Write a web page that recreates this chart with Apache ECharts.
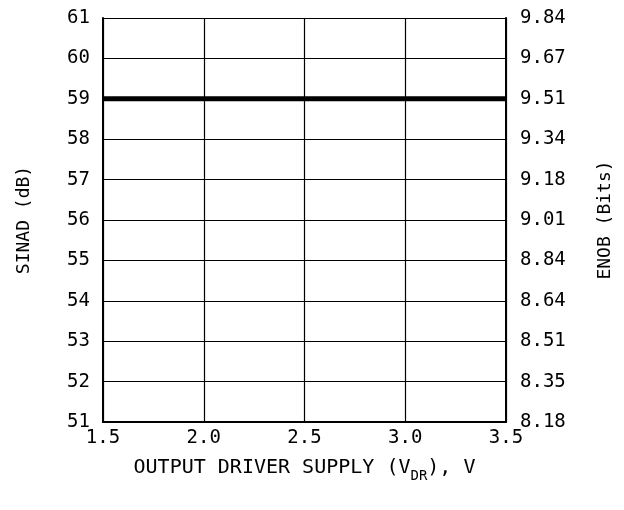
<!DOCTYPE html>
<html>
<head>
<meta charset="utf-8">
<script src="https://cdn.jsdelivr.net/npm/echarts@6/dist/echarts.min.js"></script>
<style>
  html, body { margin: 0; padding: 0; background: #fff; }
  #chart { width: 624px; height: 510px; }
</style>
</head>
<body>
<div id="chart"></div>
<script>
// data
const supplyV = [1.5, 2.0, 2.5, 3.0, 3.5];
const sinadDb = [59, 59, 59, 59, 59];
// right axis labels, bottom to top
const enobLabels = ['8.18', '8.35', '8.51', '8.64', '8.84', '9.01', '9.18', '9.34', '9.51', '9.67', '9.84'];

const chart = echarts.init(document.getElementById('chart'));
const font = 'DejaVu Sans Mono';

const option = {
  animation: false,
  grid: { left: 103, right: 118, top: 18, bottom: 88 },
  xAxis: {
    type: 'value',
    min: 1.5,
    max: 3.5,
    interval: 0.5,
    name: '{a|OUTPUT DRIVER SUPPLY (V}{s|DR}{a|), V}',
    nameLocation: 'middle',
    nameGap: 34,
    nameTextStyle: {
      rich: {
        a: { fontFamily: font, fontSize: 20, color: '#000', lineHeight: 22, verticalAlign: 'bottom' },
        s: { fontFamily: font, fontSize: 14, color: '#000', lineHeight: 22, verticalAlign: 'bottom', padding: [0, 0, -5, 0] },
      },
    },
    axisLine: { show: true, lineStyle: { color: '#000', width: 2 } },
    axisTick: { show: false },
    splitLine: { show: true, lineStyle: { color: '#000', width: 1.2 } },
    axisLabel: {
      color: '#000',
      fontFamily: font,
      fontSize: 19,
      margin: 7,
      formatter: (v) => v.toFixed(1),
    },
  },
  yAxis: [
    {
      type: 'value',
      min: 51,
      max: 61,
      interval: 1,
      position: 'left',
      name: 'SINAD (dB)',
      nameLocation: 'middle',
      nameRotate: 90,
      nameGap: 70,
      nameTextStyle: { fontFamily: font, fontSize: 18, color: '#000' },
      axisLine: { show: true, lineStyle: { color: '#000', width: 2 } },
      axisTick: { show: false },
      splitLine: { show: true, lineStyle: { color: '#000', width: 1.2 } },
      axisLabel: { color: '#000', fontFamily: font, fontSize: 19, margin: 13 },
    },
    {
      type: 'value',
      min: 51,
      max: 61,
      interval: 1,
      position: 'right',
      name: 'ENOB (Bits)',
      nameLocation: 'middle',
      nameRotate: 90,
      nameGap: 90,
      nameTextStyle: { fontFamily: font, fontSize: 18, color: '#000' },
      axisLine: { show: true, lineStyle: { color: '#000', width: 2 } },
      axisTick: { show: false },
      splitLine: { show: false },
      axisLabel: {
        color: '#000',
        fontFamily: font,
        fontSize: 19,
        margin: 14,
        formatter: (v) => enobLabels[Math.round(v - 51)],
      },
    },
  ],
  series: [
    {
      type: 'line',
      data: supplyV.map((x, i) => [x, sinadDb[i]]),
      showSymbol: false,
      lineStyle: { color: '#000', width: 5 },
      silent: true,
    },
  ],
};
chart.setOption(option);
</script>
</body>
</html>
